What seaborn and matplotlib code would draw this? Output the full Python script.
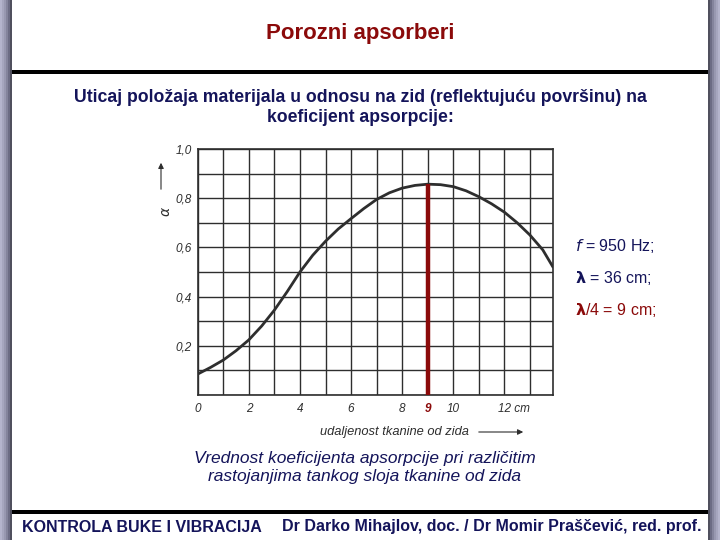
import numpy as np
import pandas as pd
import matplotlib
matplotlib.use("Agg")
import matplotlib.pyplot as plt
import matplotlib.transforms as mtransforms
from matplotlib.patches import Rectangle, FancyArrowPatch
import seaborn as sns

# distance of the fabric from the wall (cm) and absorption coefficient
DISTANCE = [0, 0.5, 1, 1.5, 2, 2.5, 3, 3.5, 4, 4.5, 5, 5.5, 6, 6.5, 7, 7.5,
            8, 8.5, 9, 9.5, 10, 10.5, 11, 11.5, 12, 12.5, 13, 13.5, 13.9]
ALPHA = [0.085, 0.112, 0.142, 0.18, 0.224, 0.28, 0.345, 0.42, 0.50, 0.568, 0.625,
         0.675, 0.717, 0.758, 0.795, 0.822, 0.841, 0.852, 0.857, 0.855, 0.847, 0.83,
         0.806, 0.777, 0.743, 0.70, 0.65, 0.59, 0.52]

QUARTER_WAVE = 9      # lambda/4 in cm
PEAK_ALPHA = 0.856

X_TICKS = [0, 2, 4, 6, 8, 9, 10, 12]
X_LABELS = ["0", "2", "4", "6", "8", "9", "10", "12 cm"]
Y_TICKS = [0.2, 0.4, 0.6, 0.8, 1.0]
Y_LABELS = ["0,2", "0,4", "0,6", "0,8", "1,0"]

NAVY = "#14145a"
DARK_RED = "#8b0a0a"
INK = "#2e2e2e"

sns.set_style("white")
plt.rcParams['font.family'] = ['Liberation Sans', 'DejaVu Sans']

W, H = 720, 540
fig = plt.figure(figsize=(7.2, 5.4), dpi=100)
fig.patch.set_facecolor("white")


def px(x, y):
    return x / W, 1 - y / H


# side bars of the slide
for x0, cols in [(0, ["#b4b4cc", "#a6a6be", "#9898b0", "#84849c", "#6c6c84", "#50505e"]),
                 (708, ["#50505e", "#6c6c84", "#84849c", "#9898b0", "#a6a6be", "#b4b4cc"])]:
    for i, c in enumerate(cols):
        fig.add_artist(Rectangle((x0 / W + i * 2 / W, 0), 2 / W, 1,
                                 transform=fig.transFigure, color=c, lw=0))

# black rules
for yy in (72, 512):
    fig.add_artist(Rectangle(px(12, yy + 2), 696 / W, 4 / H, transform=fig.transFigure,
                             color="black", lw=0))

fig.text(*px(360, 33), "Porozni apsorberi", color=DARK_RED, fontsize=16,
         fontweight="bold", ha="center", va="center")
fig.text(*px(360, 97), "Uticaj položaja materijala u odnosu na zid (reflektujuću površinu) na",
         color=NAVY, fontsize=12.7, fontweight="bold", ha="center", va="center")
fig.text(*px(360, 118), "koeficijent apsorpcije:", color=NAVY, fontsize=12.7,
         fontweight="bold", ha="center", va="center")
fig.text(*px(365, 458), "Vrednost koeficijenta apsorpcije pri različitim",
         color=NAVY, fontsize=12.5, style="italic", ha="center", va="center")
fig.text(*px(365, 476), "rastojanjima tankog sloja tkanine od zida",
         color=NAVY, fontsize=12.5, style="italic", ha="center", va="center")
fig.text(*px(22, 527), "KONTROLA BUKE I VIBRACIJA", color=NAVY, fontsize=11.5,
         fontweight="bold", ha="left", va="center")
fig.text(*px(701, 527), "Dr Darko Mihajlov, doc. / Dr Momir Praščević, red. prof.",
         color=NAVY, fontsize=11.5, fontweight="bold", ha="right", va="center")

# annotations to the right of the chart
fig.text(*px(575, 246), r"$\mathbf{\mathit{f}}$ = 950 Hz;", color=NAVY, fontsize=11.5,
         ha="left", va="center")
fig.text(*px(575, 278), r"$\mathbf{\lambda}$ = 36 cm;", color=NAVY, fontsize=11.5,
         ha="left", va="center")
fig.text(*px(575, 310), r"$\mathbf{\lambda}$/4 = 9 cm;", color=DARK_RED, fontsize=11.5,
         ha="left", va="center")

# chart
ax = fig.add_axes([197.7 / W, 1 - 395 / H, (553 - 197.7) / W, (395 - 149) / H])
df = pd.DataFrame({"distance": DISTANCE, "alpha": ALPHA})
sns.lineplot(data=df, x="distance", y="alpha", ax=ax, color=INK, lw=2)
ax.vlines(QUARTER_WAVE, 0, PEAK_ALPHA, color=DARK_RED, lw=3.2, zorder=5)

ax.set_xlim(0, 13.9)
ax.set_ylim(0, 1.0)
ax.set_xticks(np.arange(0, 14, 1), minor=True)
ax.set_yticks(np.arange(0, 1.01, 0.1), minor=True)
ax.set_xticks(X_TICKS)
ax.set_xticklabels(X_LABELS)
ax.set_yticks(Y_TICKS)
ax.set_yticklabels(Y_LABELS)
ax.grid(which="both", color=INK, lw=1.0)
ax.set_axisbelow(True)
ax.tick_params(axis="both", which="both", length=0, labelsize=8.5, labelcolor=INK)
ax.tick_params(axis="x", pad=6)
ax.tick_params(axis="y", pad=4)
for lbl in ax.get_xticklabels() + ax.get_yticklabels():
    lbl.set_style("italic")
for lbl, txt in zip(ax.get_xticklabels(), X_LABELS):
    if txt == "9":
        lbl.set_color(DARK_RED)
        lbl.set_fontweight("bold")
    if txt.endswith("cm"):
        lbl.set_ha("left")
        lbl.set_transform(lbl.get_transform() +
                          mtransforms.ScaledTranslation(-6 / 100, 0, fig.dpi_scale_trans))
for s in ax.spines.values():
    s.set_color(INK)
    s.set_linewidth(1.2)
ax.set_xlabel("")
ax.set_ylabel("")

# axis captions from the scan
fig.text(*px(166, 212), r"$\alpha$", color=INK, fontsize=10, rotation=90,
         ha="center", va="center")
fig.add_artist(FancyArrowPatch(px(161, 192), px(161, 160), transform=fig.transFigure,
                               arrowstyle="-|>", mutation_scale=8, color=INK, lw=0.8))
fig.text(*px(394, 432), "udaljenost tkanine od zida", color=INK, fontsize=9.3,
         style="italic", ha="center", va="center")
fig.add_artist(FancyArrowPatch(px(476, 432), px(526, 432), transform=fig.transFigure,
                               arrowstyle="-|>", mutation_scale=8, color=INK, lw=0.8))

fig.savefig("out.png", dpi=100)
